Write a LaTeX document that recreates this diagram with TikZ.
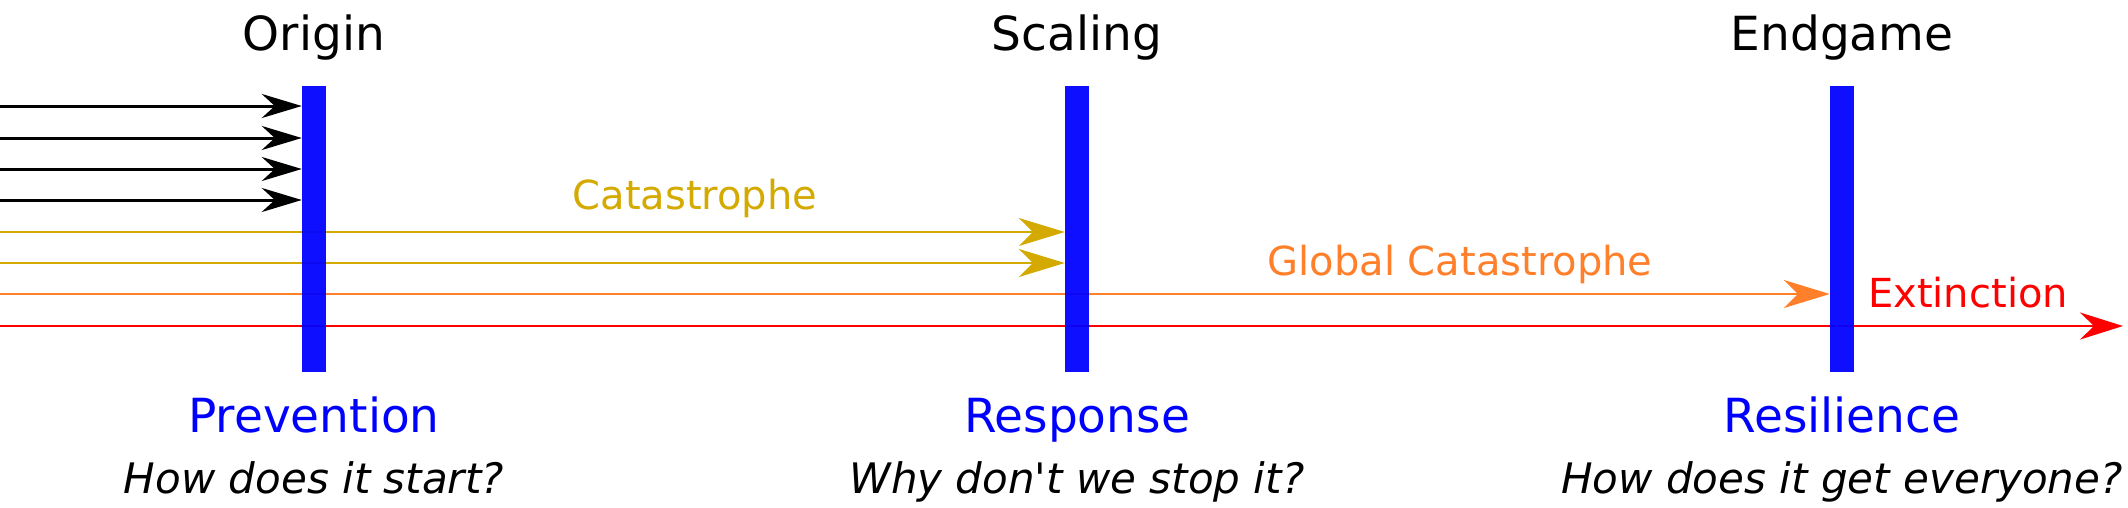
\documentclass[tikz,border=0pt]{standalone}
\usepackage{fontspec}
\setmainfont{DejaVu Sans}
\usetikzlibrary{arrows.meta,positioning,backgrounds}
\definecolor{catyellow}{RGB}{212,170,0}
\definecolor{globorange}{RGB}{255,127,42}

\begin{document}
\begin{tikzpicture}[x=1pt,y=-1pt,
                    phasebar/.style={fill=blue,fill opacity=0.94,draw=none,minimum width=24pt,minimum height=286pt,inner sep=0pt},
                    title/.style={font=\fontsize{47}{56}\selectfont,anchor=base,inner sep=0pt},
                    phase/.style={font=\fontsize{47}{56}\selectfont,text=blue,anchor=base,inner sep=0pt},
                    question/.style={font=\fontsize{42}{50}\selectfont\itshape,anchor=base,inner sep=0pt},
                    tag/.style={font=\fontsize{40}{48}\selectfont,anchor=base,inner sep=0pt},
                    trend/.style={line width=2.5pt,-{Stealth[length=46pt,width=28pt,inset=14pt]}},
                    cause/.style={line width=3pt,black,-{Stealth[length=40pt,width=24pt,inset=13pt]}}
]
\useasboundingbox (0,0) rectangle (2128,507);

\node [phasebar] (obar) at (314,229) {};
\node [phasebar] (sbar) at (1077,229) {};
\node [phasebar] (ebar) at (1842,229) {};
%
\node [title] (otitle) at ([yshift=35pt]obar.north) {Origin};
\node [title] (stitle) at ([yshift=35pt]sbar.north) {Scaling};
\node [title] (etitle) at ([yshift=35pt]ebar.north) {Endgame};
%
\node [phase] (oname) at ([yshift=-60pt]obar.south) {Prevention};
\node [phase] (sname) at ([yshift=-60pt]sbar.south) {Response};
\node [phase] (ename) at ([yshift=-60pt]ebar.south) {Resilience};
%
\node [question] (oask) at ([yshift=-61pt]oname.base) {How does it start?};
\node [question] (sask) at ([yshift=-61pt]sname.base) {Why don\textquotesingle t we stop it?};
\node [question] (eask) at ([yshift=-61pt]ename.base) {How does it get everyone?};
%
\node [tag,text=catyellow] (catlabel) at (695,209) {Catastrophe};
\node [tag,text=globorange] (globlabel) at (1460,275) {Global Catastrophe};
\node [tag,text=red,anchor=base west] (extlabel) at (1868,307) {Extinction};

\begin{scope}[on background layer]
\foreach \y [count=\i] in {106,138,169,200}{
  \coordinate (c\i) at (0,\y);
  \draw [cause] (c\i) -- (c\i -| obar.west);
}
\coordinate (k1) at (0,232);
\coordinate (k2) at (0,263);
\coordinate (g1) at (0,294);
\coordinate (x1) at (0,326);
\coordinate (xend) at (2123,326);
\draw [trend,catyellow] (k1) -- (k1 -| sbar.west);
\draw [trend,catyellow] (k2) -- (k2 -| sbar.west);
\draw [trend,globorange] (g1) -- (g1 -| ebar.west);
\draw [trend,red,-{Stealth[length=43pt,width=27pt,inset=14pt]}] (x1) -- (xend);
\end{scope}
\end{tikzpicture}
\end{document}
